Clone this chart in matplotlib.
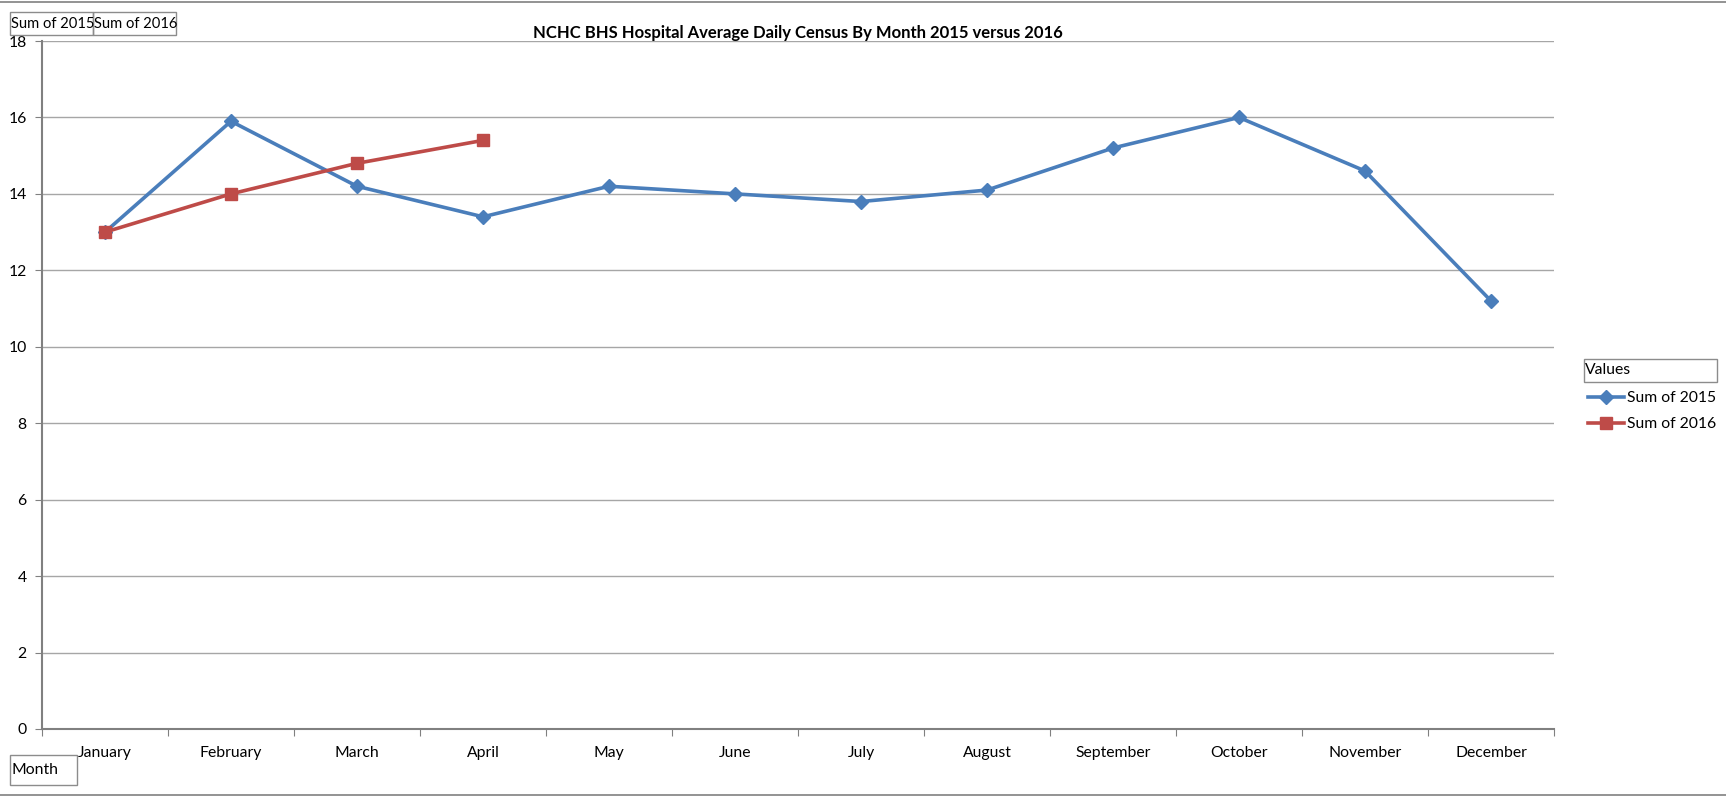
import matplotlib.pyplot as plt
from matplotlib.patches import Rectangle
from matplotlib.lines import Line2D

months = ["January", "February", "March", "April", "May", "June",
          "July", "August", "September", "October", "November", "December"]
sum_2015 = [13.0, 15.9, 14.2, 13.4, 14.2, 14.0, 13.8, 14.1, 15.2, 16.0, 14.6, 11.2]
sum_2016 = [13.0, 14.0, 14.8, 15.4]
y_ticks = [0, 2, 4, 6, 8, 10, 12, 14, 16, 18]

plt.rcParams['font.family'] = ['Lato', 'DejaVu Sans']
FS = 11.3

W, H = 1726, 796
fig = plt.figure(figsize=(W / 100, H / 100), dpi=100)

# axes placed in pixel coords
ax_l, ax_r, ax_t, ax_b = 42, 1554, 41, 729
ax = fig.add_axes([ax_l / W, 1 - ax_b / H, (ax_r - ax_l) / W, (ax_b - ax_t) / H])

blue = "#4a7ebb"
red = "#be4b48"
x15 = list(range(len(sum_2015)))
x16 = list(range(len(sum_2016)))
ax.plot(x15, sum_2015, color=blue, lw=2.6, marker="D", ms=7, label="Sum of 2015", zorder=3)
ax.plot(x16, sum_2016, color=red, lw=2.6, marker="s", ms=8.5, label="Sum of 2016", zorder=3)

ax.set_xlim(-0.5, len(months) - 0.5)
ax.set_ylim(0, 18)
ax.set_yticks(y_ticks)
ax.set_yticklabels([str(v) for v in y_ticks], fontsize=FS)
ax.yaxis.grid(True, color="#a6a6a6", lw=1)
ax.set_axisbelow(True)

# category labels between boundary ticks
ax.set_xticks([i + 0.5 for i in range(-1, len(months))])
ax.set_xticklabels([])
ax.set_xticks(x15, minor=True)
ax.set_xticklabels(months, minor=True, fontsize=FS)
ax.tick_params(axis="x", which="minor", length=0, pad=12)
ax.tick_params(axis="x", which="major", length=5, color="#808080", direction="out")
ax.tick_params(axis="y", length=5, color="#808080", pad=6)

for s in ["top", "right"]:
    ax.spines[s].set_visible(False)
for s in ["left", "bottom"]:
    ax.spines[s].set_color("#808080")
    ax.spines[s].set_linewidth(1.5)

fig.text(798 / W, 1 - 33 / H, "NCHC BHS Hospital Average Daily Census By Month 2015 versus 2016",
         ha="center", va="center", fontsize=12, fontweight="bold")

# outer frame lines
fig.add_artist(Line2D([0, 1], [1 - 2 / H, 1 - 2 / H], color="#808080", lw=1.2))
fig.add_artist(Line2D([0, 1], [1 - 795 / H, 1 - 795 / H], color="#808080", lw=1.2))


def field_box(x0, y0, x1, y1, text, fs=10.6):
    fig.add_artist(Rectangle((x0 / W, 1 - y1 / H), (x1 - x0) / W, (y1 - y0) / H,
                             transform=fig.transFigure, fill=False, ec="#8c8c8c", lw=1))
    fig.text((x0 + 1) / W, 1 - (y0 + y1) / 2 / H, text, ha="left", va="center", fontsize=fs)


field_box(10, 12, 93, 35, "Sum of 2015")
field_box(93, 12, 176, 35, "Sum of 2016")
field_box(10, 755, 77, 785, "Month", FS)
field_box(1584, 359, 1717, 382, "Values", FS)

# legend below the Values box
handles, labels = ax.get_legend_handles_labels()
leg = fig.legend(handles, labels, loc="upper left", bbox_to_anchor=(1582 / W, 1 - 385 / H),
                 frameon=False, fontsize=FS, handlelength=2.3, handletextpad=0.15,
                 labelspacing=0.75, borderaxespad=0)

fig.savefig("out.png", dpi=100)
